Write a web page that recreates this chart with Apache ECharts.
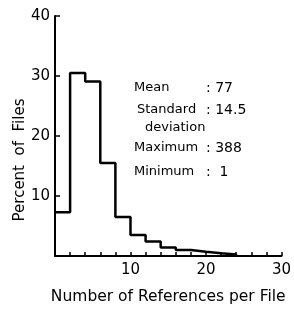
<!DOCTYPE html>
<html>
<head>
<meta charset="utf-8">
<script src="https://cdn.jsdelivr.net/npm/echarts@6/dist/echarts.min.js"></script>
<style>
  html, body { margin: 0; padding: 0; background: #fff; }
  #chart { width: 294px; height: 310px; }
</style>
</head>
<body>
<div id="chart"></div>
<script>
// left edge of each bin (width 2) and percent of files in it
var binStart = [0, 2, 4, 6, 8, 10, 12, 14, 16, 18, 20, 22, 24];
var percent = [7.3, 30.5, 29.1, 15.5, 6.5, 3.5, 2.4, 1.4, 1.0, 0.7, 0.45, 0.25, 0];
var statNames = ['Mean', 'Standard', 'Maximum', 'Minimum'];
var statValues = [': 77', ': 14.5', ': 388', ':  1'];

var font = 'DejaVu Sans';
var chart = echarts.init(document.getElementById('chart'));

var stepData = binStart.map(function (x, i) { return [x, percent[i]]; });

var statY = [89, 111, 149, 173];
var texts = [];
statNames.forEach(function (n, i) {
  texts.push({
    type: 'text', left: i == 1 ? 137 : 134, top: statY[i] - 8,
    style: { text: n, font: '13px "' + font + '"', fill: '#000' }
  });
  texts.push({
    type: 'text', left: 206, top: statY[i] - 8,
    style: { text: statValues[i], font: '14px "' + font + '"', fill: '#000' }
  });
});
texts.push({
  type: 'text', left: 145, top: 121,
  style: { text: 'deviation', font: '13px "' + font + '"', fill: '#000' }
});
// y axis title, placed by hand since it sits lower than the axis middle
texts.push({
  type: 'text', x: 20, y: 160, rotation: Math.PI / 2,
  style: {
    text: 'Percent  of  Files', font: '15px "' + font + '"', fill: '#000',
    textAlign: 'center', textVerticalAlign: 'middle'
  }
});

var option = {
  animation: false,
  grid: { left: 55, right: 11, top: 16, bottom: 54 },
  xAxis: {
    type: 'value',
    min: 0, max: 30, interval: 2,
    name: 'Number of References per File',
    nameLocation: 'middle',
    nameGap: 33,
    nameTextStyle: { fontFamily: font, fontSize: 15.5, color: '#000' },
    axisLine: { lineStyle: { color: '#000', width: 2 } },
    axisTick: { inside: true, length: 4, lineStyle: { color: '#000', width: 1.5 } },
    axisLabel: {
      fontFamily: font, fontSize: 15, color: '#000', margin: 7,
      formatter: function (v) { return (v % 10 === 0 && v > 0) ? v : ''; }
    },
    splitLine: { show: false }
  },
  yAxis: {
    type: 'value',
    min: 0, max: 40, interval: 10,
    axisLine: { show: true, lineStyle: { color: '#000', width: 2 } },
    axisTick: { show: true, inside: true, length: 5, lineStyle: { color: '#000', width: 1.5 } },
    axisLabel: {
      fontFamily: font, fontSize: 15, color: '#000', margin: 5,
      formatter: function (v) { return v > 0 ? v : ''; }
    },
    splitLine: { show: false }
  },
  series: [{
    type: 'line',
    step: 'end',
    data: stepData,
    symbol: 'none',
    lineStyle: { color: '#000', width: 2.5 }
  }],
  graphic: texts
};
chart.setOption(option);
</script>
</body>
</html>
